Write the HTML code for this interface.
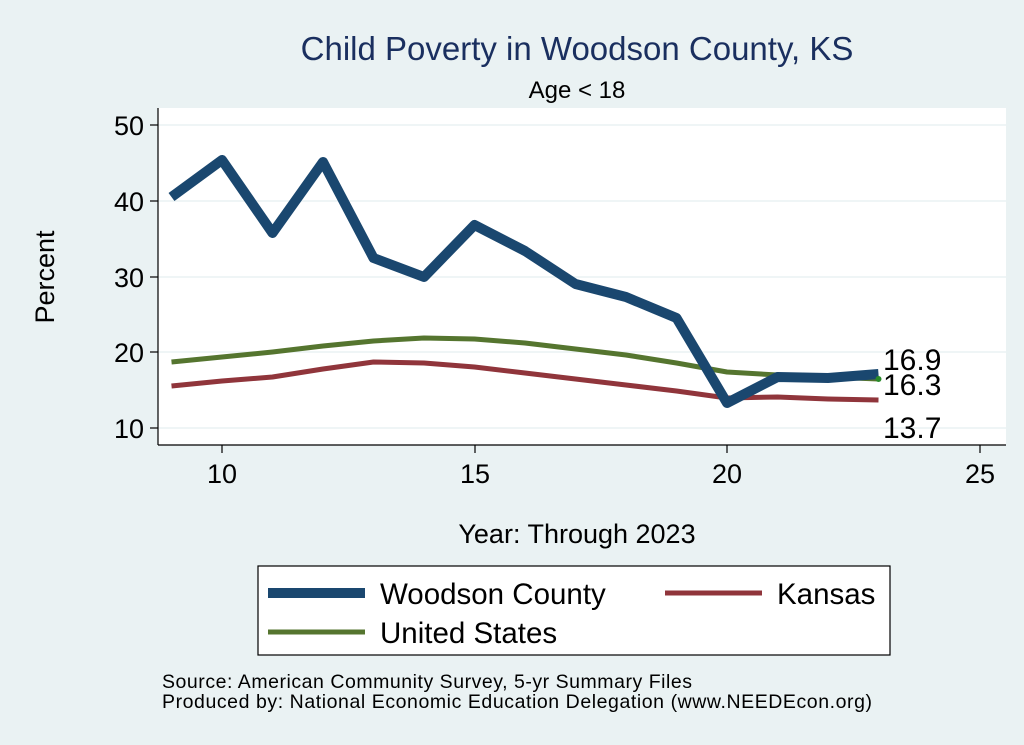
<!DOCTYPE html>
<html><head><style>
body{margin:0;background:#eaf2f3;}
svg{display:block;font-family:"Liberation Sans",sans-serif;}
</style></head><body>
<svg width="1024" height="745" viewBox="0 0 1024 745">
<rect width="1024" height="745" fill="#eaf2f3"/>
<rect x="158" y="108" width="848" height="337" fill="#fff"/>
<g stroke="#eaf2f3" stroke-width="1.5">
<line x1="158" x2="1006" y1="125" y2="125"/>
<line x1="158" x2="1006" y1="201" y2="201"/>
<line x1="158" x2="1006" y1="277" y2="277"/>
<line x1="158" x2="1006" y1="352" y2="352"/>
<line x1="158" x2="1006" y1="428" y2="428"/>
</g>
<g stroke="#000" stroke-width="1.2">
<line x1="158" x2="158" y1="108" y2="445"/>
<line x1="158" x2="1006" y1="445" y2="445"/>
<line x1="150" x2="158" y1="125" y2="125"/>
<line x1="150" x2="158" y1="201" y2="201"/>
<line x1="150" x2="158" y1="277" y2="277"/>
<line x1="150" x2="158" y1="352" y2="352"/>
<line x1="150" x2="158" y1="428" y2="428"/>
<line x1="222" x2="222" y1="445" y2="453"/>
<line x1="475" x2="475" y1="445" y2="453"/>
<line x1="727" x2="727" y1="445" y2="453"/>
<line x1="980" x2="980" y1="445" y2="453"/>
</g>
<g font-size="27" text-anchor="end">
<text x="144" y="135">50</text><text x="144" y="211">40</text>
<text x="144" y="287">30</text><text x="144" y="362">20</text><text x="144" y="438">10</text>
</g>
<g font-size="27" text-anchor="middle">
<text x="222" y="483">10</text><text x="475" y="483">15</text>
<text x="727" y="483">20</text><text x="980" y="483">25</text>
</g>
<text x="577" y="60" font-size="33" text-anchor="middle" fill="#1a2f5f">Child Poverty in Woodson County, KS</text>
<text x="577" y="98" font-size="24" text-anchor="middle">Age &lt; 18</text>
<text x="54" y="277" font-size="27" text-anchor="middle" transform="rotate(-90 54 277)">Percent</text>
<text x="577" y="543" font-size="27" text-anchor="middle">Year: Through 2023</text>
<g fill="none" stroke-linejoin="round">
<polyline stroke="#55752f" stroke-width="5" points="171.5,362 222,357 272.5,352 323,346 373.5,341 424,338 474.5,339 525,343 575.5,349 626,355 676.5,363 727,372 777.5,375 828,377 878.5,379"/>
<polyline stroke="#90353b" stroke-width="5" points="171.5,386 222,381 272.5,377 323,369 373.5,362 424,363 474.5,367 525,373 575.5,379 626,385 676.5,391 727,398 777.5,397 828,399 878.5,400"/>
<polyline stroke="#1a476f" stroke-width="10" points="171.5,197 222,160 272.5,233 323,162 373.5,258 424,277 474.5,225 525,251 575.5,284 626,297 676.5,318 727,403 777.5,377 828,378 878.5,374"/>
</g>
<circle cx="878.5" cy="379" r="3" fill="#2a8a2a"/>
<g font-size="30">
<text x="883" y="370">16.9</text><text x="883" y="395">16.3</text><text x="883" y="438">13.7</text>
</g>
<rect x="258" y="566" width="632" height="89" fill="#fff" stroke="#000" stroke-width="1.2"/>
<line x1="268" x2="365" y1="593" y2="593" stroke="#1a476f" stroke-width="10"/>
<text x="380" y="604" font-size="29.5">Woodson County</text>
<line x1="665" x2="762" y1="593" y2="593" stroke="#90353b" stroke-width="5"/>
<text x="777" y="604" font-size="29.5">Kansas</text>
<line x1="268" x2="365" y1="632" y2="632" stroke="#55752f" stroke-width="5"/>
<text x="380" y="643" font-size="29.5">United States</text>
<text x="162" y="688" font-size="19.5" textLength="530">Source: American Community Survey, 5-yr Summary Files</text>
<text x="162" y="708" font-size="19.5" textLength="710">Produced by: National Economic Education Delegation (www.NEEDEcon.org)</text>
</svg>
</body></html>
